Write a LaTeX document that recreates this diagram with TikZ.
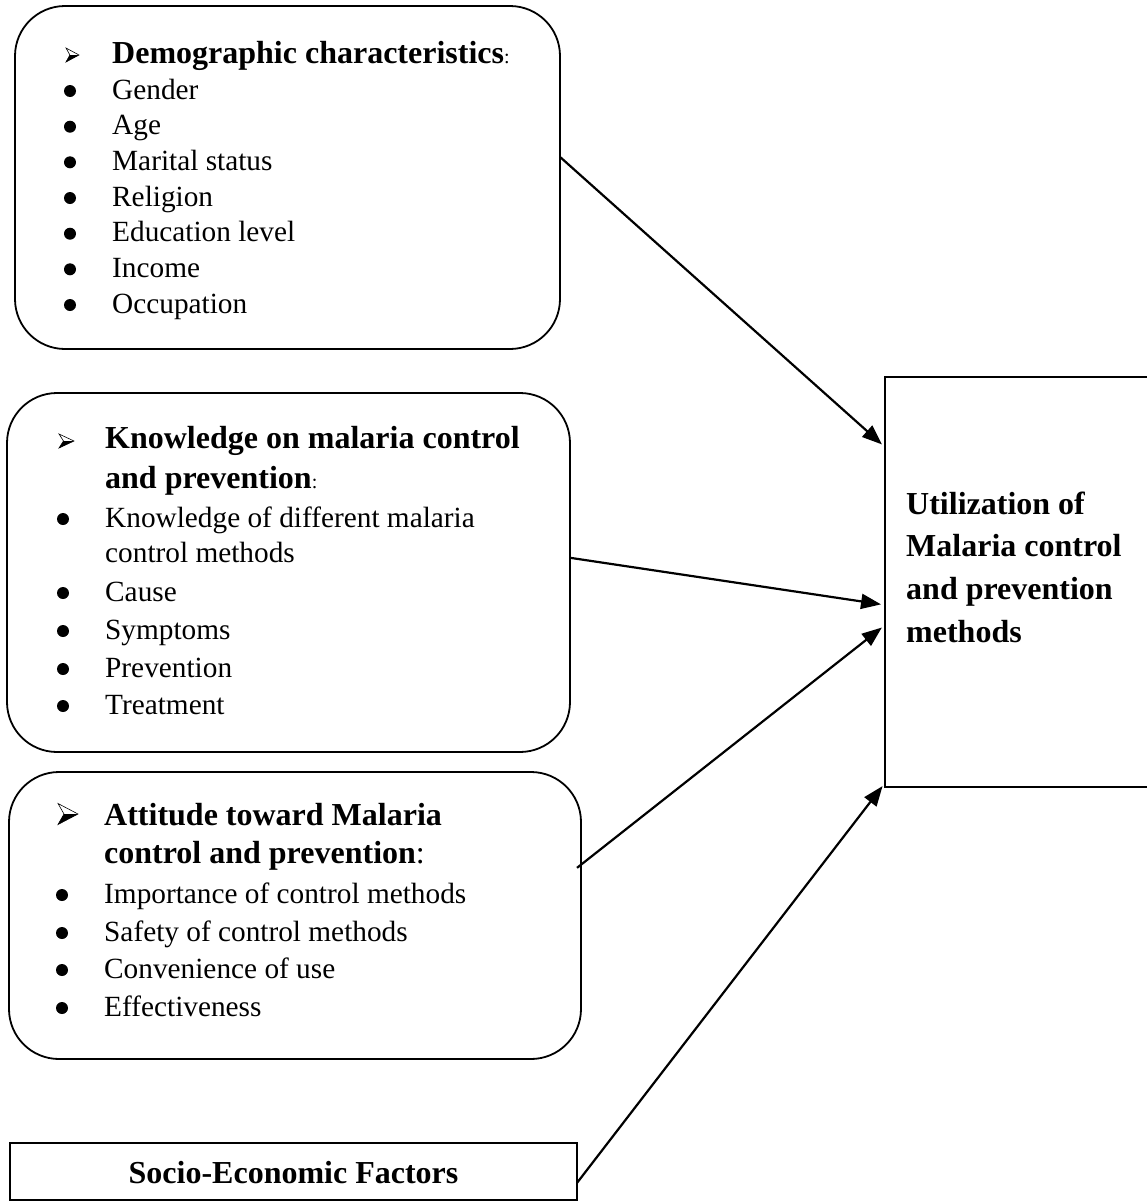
\documentclass[tikz,border=0pt]{standalone}
\usepackage{fontspec}
\setmainfont{Liberation Serif}
\usetikzlibrary{arrows.meta,calc}
\tikzset{
  rbox/.style={draw, line width=1.8pt, rounded corners=50pt, inner sep=0pt, outer sep=0pt},
  sbox/.style={draw, line width=1.8pt, inner sep=0pt, outer sep=0pt},
  body/.style={anchor=base west, inner sep=0pt, font=\fontsize{29.3}{35}\selectfont},
  head/.style={anchor=base west, inner sep=0pt, font=\fontsize{32}{40}\selectfont\bfseries},
  conn/.style={line width=2.2pt, -{Triangle[length=20pt,width=15pt]}, shorten >=4pt},
}
\newcommand\smcolon{\textmd{\fontsize{20}{20}\selectfont:}}
% round bullet: #1 centre x, #2 baseline y
\newcommand\bdot[2]{\fill (#1,#2-8) circle (6pt);}
% arrowhead bullet: #1 left x, #2 centre y, #3 width, #4 height
\newcommand\abul[4]{%
  \fill[black] (#1+0.3*#3,#2) -- (#1+#3,#2) -- (#1,#2+#4/2) -- cycle;
  \draw[line width=0.6pt, line join=miter] (#1,#2-#4/2) -- (#1+#3,#2) -- (#1,#2+#4/2) -- (#1+0.3*#3,#2) -- cycle;
}
\begin{document}
\begin{tikzpicture}[x=1pt,y=-1pt]
\useasboundingbox (0,0) rectangle (1147,1202);

% ---- box 1
\node[rbox, minimum width=545pt, minimum height=343pt] (b1) at (287.5,177.5) {};
\abul{66}{55}{13}{14}
\node[head] (h1) at (112,63) {Demographic characteristics\smcolon};
\foreach \y in {99,134.7,170.3,206,241.7,277.3,313} {\bdot{70}{\y}}
\node[body] (g1) at (112,99) {Gender};
\node[body] (g2) at (112,134.7) {Age};
\node[body] (g3) at (112,170.3) {Marital status};
\node[body] (g4) at (112,206) {Religion};
\node[body] (g5) at (112,241.7) {Education level};
\node[body] (g6) at (112,277.3) {Income};
\node[body] (g7) at (112,313) {Occupation};

% ---- box 2
\node[rbox, minimum width=563pt, minimum height=359pt] (b2) at (288.5,572.5) {};
\abul{59}{441}{15}{14}
\node[head] (h2a) at (105,448) {Knowledge on malaria control};
\node[head] (h2b) at (105,488) {and prevention\smcolon};
\foreach \y in {527,601,639,677,714} {\bdot{63}{\y}}
\node[body] (k1) at (105,527) {Knowledge of different malaria};
\node[body] (k1b) at (105,562) {control methods};
\node[body] (k2) at (105,601) {Cause};
\node[body] (k3) at (105,639) {Symptoms};
\node[body] (k4) at (105,677) {Prevention};
\node[body] (k5) at (105,714) {Treatment};

% ---- box 3
\node[rbox, minimum width=572pt, minimum height=287pt] (b3) at (295,915.5) {};
\abul{58}{814}{20}{21}
\node[head] (h3a) at (104,825) {Attitude toward Malaria};
\node[head] (h3b) at (104,863) {control and prevention\textmd{:}};
\foreach \y in {903,941,978,1016} {\bdot{62}{\y}}
\node[body] (a1) at (104,903) {Importance of control methods};
\node[body] (a2) at (104,941) {Safety of control methods};
\node[body] (a3) at (104,978) {Convenience of use};
\node[body] (a4) at (104,1016) {Effectiveness};

% ---- socio-economic box
\node[sbox, line width=2.4pt, minimum width=567pt, minimum height=57pt] (b4) at (293.5,1171.5) {};
\node[head, anchor=base] (st) at (293.5,1183) {Socio-Economic Factors};

% ---- outcome box
\node[sbox, minimum width=275pt, minimum height=410pt] (R) at (1022.5,582) {};
\node[head] (r1) at (906,514) {Utilization of};
\node[head] (r2) at (906,556) {Malaria control};
\node[head] (r3) at (906,599) {and prevention};
\node[head] (r4) at (906,642) {methods};

% ---- connectors
\coordinate (s1) at ($(b1.north east)!0.44!(b1.south east)$);
\coordinate (s2) at ($(b2.north east)!0.459!(b2.south east)$);
\coordinate (s3) at ($(b3.north east)!0.334!(b3.south east)+(-4,0)$);
\coordinate (s4) at ($(b4.north east)!0.70!(b4.south east)$);
\draw[conn] (s1) -- ($(R.north west)!0.171!(R.south west)$);
\draw[conn] (s2) -- ($(R.north west)!0.556!(R.south west)$);
\draw[conn] (s3) -- ($(R.north west)!0.605!(R.south west)$);
\draw[conn] (s4) -- ($(R.north west)!0.99!(R.south west)$);
\end{tikzpicture}
\end{document}
